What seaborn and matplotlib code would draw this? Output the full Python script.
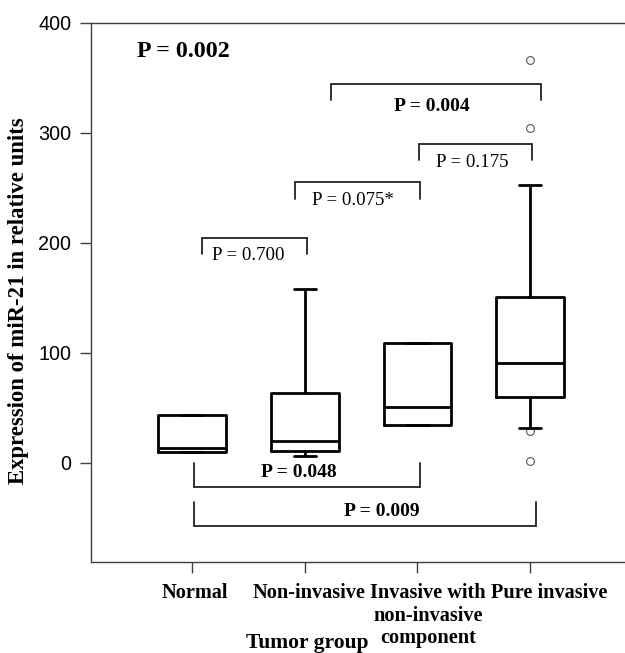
import matplotlib
matplotlib.use("Agg")
import matplotlib.pyplot as plt
import matplotlib.transforms as mtransforms
import seaborn as sns
import pandas as pd

# ---- data ----
categories = ["Normal", "Non-invasive", "Invasive with\nnon-invasive\ncomponent", "Pure invasive"]
whisker_low = [10, 5.8, 34, 31.8]
q1 = [10, 10.6, 34, 59.7]
median = [13.5, 19.4, 50.6, 90.9]
q3 = [43, 63.4, 108.5, 150.9]
whisker_high = [43, 157.6, 108.5, 252.5]

outlier_group = ["Pure invasive", "Pure invasive", "Pure invasive", "Pure invasive"]
outlier_values = [366, 304, 29, 1.5]

overall_p = "P = 0.002"
bracket_labels = ["P = 0.700", "P = 0.075*", "P = 0.175", "P = 0.004", "P = 0.048", "P = 0.009"]
bracket_bold = [False, False, False, True, True, True]
bracket_x1 = [0.09, 0.91, 2.01, 1.23, 0.02, 0.02]
bracket_x2 = [1.02, 2.02, 3.02, 3.10, 2.02, 3.05]
bracket_bar = [204.5, 255.5, 289.4, 344, -22.4, -57.5]
bracket_end = [189.7, 239.7, 275, 329.7, 0, -35.5]
label_x = [0.50, 1.43, 2.49, 2.13, 0.95, 1.68]
label_y = [188, 238.6, 273, 323.6, -9, -44.5]

yticks = [0, 100, 200, 300, 400]

# horizontal shift of each category label relative to its tick (points)
xtick_label_shift_pt = [2.0, 2.7, 7.4, 13.7]

# ---- build long table: five-number summary per group ----
rows = []
for i, g in enumerate(categories):
    for v in (whisker_low[i], q1[i], median[i], q3[i], whisker_high[i]):
        rows.append({"group": g, "value": v})
df = pd.DataFrame(rows)

sns.set_style("ticks")
plt.rcParams["font.family"] = ["Liberation Serif", "DejaVu Serif"]
plt.rcParams["text.color"] = "black"
plt.rcParams["axes.labelcolor"] = "black"
plt.rcParams["xtick.color"] = "black"
plt.rcParams["ytick.color"] = "black"

fig = plt.figure(figsize=(6.25, 6.53), dpi=100)
ax = fig.add_axes([0.1451, 0.1394, 1.0 - 0.1451, 0.9652 - 0.1394])

sns.boxplot(data=df, x="group", y="value", order=categories, whis=(0, 100),
            width=0.6, fill=False, color="black", linewidth=2.0,
            showfliers=False, capwidths=0.2, ax=ax)

sns.stripplot(x=outlier_group, y=outlier_values, order=categories, jitter=False,
              color="white", edgecolor="#555555", linewidth=0.8, size=5.6,
              zorder=1, ax=ax)

# brackets
bc = "#222222"
for i, lab in enumerate(bracket_labels):
    ax.plot([bracket_x1[i], bracket_x1[i], bracket_x2[i], bracket_x2[i]],
            [bracket_end[i], bracket_bar[i], bracket_bar[i], bracket_end[i]],
            color=bc, lw=1.3, solid_joinstyle="miter", zorder=3)
    ax.text(label_x[i], label_y[i], lab, ha="center", va="center",
            fontsize=14 if bracket_bold[i] else 13.6,
            fontweight="bold" if bracket_bold[i] else "normal",
            family="Liberation Serif", color="black")

ax.text(-0.49, 374, overall_p, ha="left", va="center", fontsize=17.3,
        fontweight="bold", family="Liberation Serif")

ax.set_xlim(-0.9, 3.842)
ax.set_ylim(-90.3, 400)
ax.set_yticks(yticks)
ax.set_yticklabels([str(t) for t in yticks], family="Liberation Sans", fontsize=14.2)
ax.set_xticks(range(len(categories)))
ax.set_xticklabels(categories, family="Liberation Serif", fontweight="bold",
                   fontsize=14.6, linespacing=1.18)

spine_c = "#404040"
ax.spines["right"].set_visible(False)
for s in ("left", "top", "bottom"):
    ax.spines[s].set_color(spine_c)
    ax.spines[s].set_linewidth(1.0)
ax.tick_params(axis="both", direction="out", length=8, width=1.0, color=spine_c)
ax.tick_params(axis="y", pad=6)
ax.tick_params(axis="x", pad=7)

for lbl, dx in zip(ax.get_xticklabels(), xtick_label_shift_pt):
    lbl.set_transform(lbl.get_transform() +
                      mtransforms.ScaledTranslation(dx / 72.0, 0, fig.dpi_scale_trans))

ax.set_xlabel("Tumor group", family="Liberation Serif", fontweight="bold", fontsize=15.5)
ax.xaxis.set_label_coords(0.405, -0.131)
ax.xaxis.label.set_va("top")
ax.set_ylabel("Expression of miR-21 in relative units", family="Liberation Serif",
              fontweight="bold", fontsize=16.4)
ax.yaxis.set_label_coords(-0.116, 0.485)

fig.savefig("out.png", dpi=100)
